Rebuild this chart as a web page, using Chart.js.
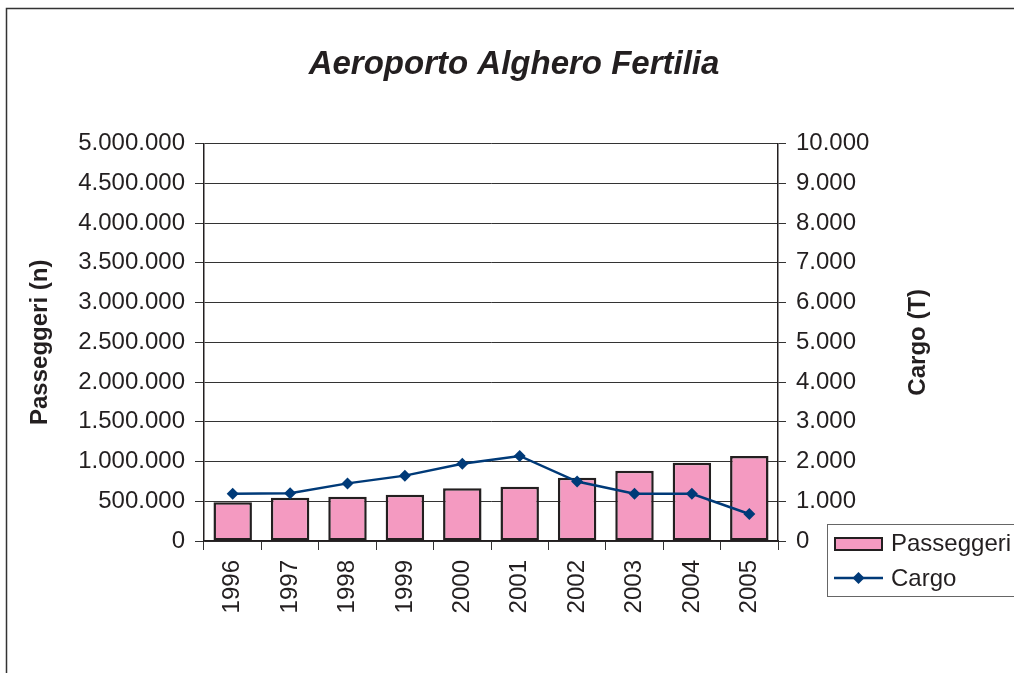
<!DOCTYPE html>
<html>
<head>
<meta charset="utf-8">
<script src="https://cdn.jsdelivr.net/npm/chart.js@4.4.0/dist/chart.umd.min.js"></script>
<style>
  html, body { margin: 0; padding: 0; background: #fff; }
  #wrap { width: 1014px; height: 673px; }
</style>
</head>
<body>
<div id="wrap"><canvas id="chart-alghero" width="1014" height="673"></canvas></div>
<script>
var anni = ["1996", "1997", "1998", "1999", "2000", "2001", "2002", "2003", "2004", "2005"];
var passeggeri = [487000, 545000, 558000, 583000, 664000, 684000, 797000, 885000, 986000, 1070000];
var cargo = [1190, 1200, 1450, 1645, 1945, 2140, 1495, 1190, 1190, 680];
var passeggeriMax = 5000000, passeggeriStep = 500000;
var cargoMax = 10000, cargoStep = 1000;

var font = "'Liberation Sans', Arial, sans-serif";
var ink = "#231f20";

function migliaia(v) {
  return String(v).replace(/\B(?=(\d{3})+(?!\d))/g, ".");
}

// cornice, titolo asse destro e legenda disegnati a mano
var extra = {
  id: "extra",
  beforeDraw: function (chart) {
    var ctx = chart.ctx;
    ctx.save();
    ctx.strokeStyle = "#333";
    ctx.lineWidth = 1.5;
    ctx.beginPath();
    ctx.moveTo(6.5, 673);
    ctx.lineTo(6.5, 8.5);
    ctx.lineTo(1014, 8.5);
    ctx.stroke();
    ctx.restore();
  },
  afterDraw: function (chart) {
    var ctx = chart.ctx;
    var area = chart.chartArea;
    ctx.save();
    ctx.fillStyle = ink;
    ctx.font = "bold 24px " + font;
    ctx.textAlign = "center";
    ctx.textBaseline = "middle";
    ctx.translate(918, (area.top + area.bottom) / 2);
    ctx.rotate(-Math.PI / 2);
    ctx.fillText("Cargo (T)", 0, 0);
    ctx.restore();

    // legenda
    var ds = chart.data.datasets;
    ctx.save();
    ctx.strokeStyle = "#666";
    ctx.lineWidth = 1;
    ctx.strokeRect(827.5, 524.5, 200, 72);
    ctx.fillStyle = ds[0].backgroundColor;
    ctx.fillRect(834, 537, 49, 14);
    ctx.strokeStyle = ink;
    ctx.lineWidth = 2;
    ctx.strokeRect(835, 538, 47, 12);
    ctx.strokeStyle = ds[1].borderColor;
    ctx.lineWidth = 2.5;
    ctx.beginPath();
    ctx.moveTo(834, 578);
    ctx.lineTo(883, 578);
    ctx.stroke();
    ctx.fillStyle = ds[1].borderColor;
    ctx.beginPath();
    ctx.moveTo(858.5, 572);
    ctx.lineTo(864.5, 578);
    ctx.lineTo(858.5, 584);
    ctx.lineTo(852.5, 578);
    ctx.closePath();
    ctx.fill();
    ctx.fillStyle = ink;
    ctx.font = "24px " + font;
    ctx.textAlign = "left";
    ctx.textBaseline = "middle";
    ctx.fillText(ds[0].label, 891, 544);
    ctx.fillText(ds[1].label, 891, 579);
    ctx.restore();
  }
};

new Chart(document.getElementById("chart-alghero"), {
  type: "bar",
  data: {
    labels: anni,
    datasets: [
      {
        label: "Passeggeri",
        data: passeggeri,
        yAxisID: "y",
        backgroundColor: "#f49ac1",
        borderColor: ink,
        borderWidth: 2.5,
        borderSkipped: false,
        barPercentage: 0.67,
        categoryPercentage: 1,
        order: 1
      },
      {
        type: "line",
        label: "Cargo",
        data: cargo,
        yAxisID: "y2",
        borderColor: "#003a78",
        backgroundColor: "#003a78",
        borderWidth: 2.5,
        pointStyle: "rectRot",
        pointRadius: 6,
        pointBorderWidth: 0,
        tension: 0,
        order: 0
      }
    ]
  },
  options: {
    responsive: false,
    animation: false,
    layout: { padding: { left: 14, top: 0, right: 0, bottom: 0 } },
    plugins: {
      legend: { display: false },
      tooltip: { enabled: false },
      title: {
        display: true,
        text: "Aeroporto Alghero Fertilia",
        color: ink,
        font: { family: font, size: 33, weight: "bold", style: "italic", lineHeight: 1.2 },
        padding: { top: 45, bottom: 59 }
      }
    },
    scales: {
      x: {
        grid: { display: true, offset: true, drawOnChartArea: false, tickLength: 9, color: "#333", tickColor: "#333" },
        border: { display: true, color: ink, width: 1.5 },
        ticks: { color: ink, font: { family: font, size: 24 }, minRotation: 90, maxRotation: 90, padding: 10 },
        afterFit: function (s) { s.height = 132; }
      },
      y: {
        position: "left",
        min: 0,
        max: passeggeriMax,
        grid: { color: "#333", tickColor: "#333", tickLength: 9 },
        border: { display: true, color: ink, width: 1.5 },
        ticks: {
          stepSize: passeggeriStep,
          color: ink,
          font: { family: font, size: 24 },
          padding: 10,
          callback: function (v) { return migliaia(v); }
        },
        title: {
          display: true,
          text: "Passeggeri (n)",
          color: ink,
          font: { family: font, size: 24, weight: "bold" },
          padding: { top: 12, bottom: 0 }
        },
        afterFit: function (s) { s.width = 190; }
      },
      y2: {
        position: "right",
        min: 0,
        max: cargoMax,
        grid: { drawOnChartArea: false, tickColor: "#333", tickLength: 8 },
        border: { display: true, color: ink, width: 1.5 },
        ticks: {
          stepSize: cargoStep,
          color: ink,
          font: { family: font, size: 24 },
          padding: 10,
          callback: function (v) { return migliaia(v); }
        },
        afterFit: function (s) { s.width = 236; }
      }
    }
  },
  plugins: [extra]
});
</script>
</body>
</html>
